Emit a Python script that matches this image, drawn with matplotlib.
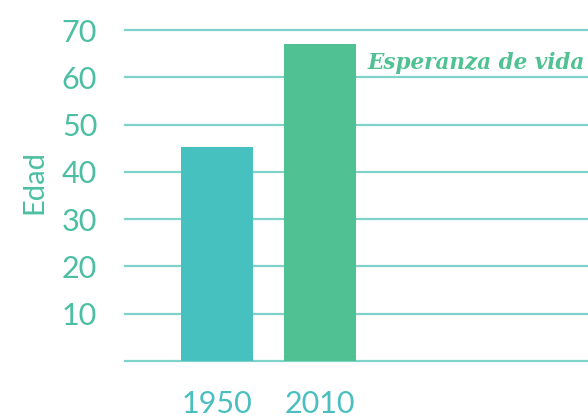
import matplotlib.pyplot as plt

# data
years = ["1950", "2010"]
ages = [45.2, 67.1]
bar_colors = ["#47C1C0", "#50C192"]
yticks = [10, 20, 30, 40, 50, 60, 70]

fig = plt.figure(figsize=(5.88, 4.19), dpi=100)
ax = fig.add_axes([125 / 588, (419 - 361) / 419, 463 / 588, (361 - 30) / 419])

x = range(len(years))
ax.bar(x, ages, width=0.7, color=bar_colors, zorder=3)

ax.set_xlim(-0.893, 3.60)
ax.set_ylim(0, 70)

# horizontal gridlines incl. the baseline
for v in [0] + yticks:
    ax.axhline(v, color="#7FD3CB", linewidth=1.6, zorder=1, clip_on=False)

ax.set_yticks(yticks)
ax.set_yticklabels([str(t) for t in yticks], fontsize=22, color="#4CBFA3", family="Lato")
ax.set_xticks(list(x))
ax.set_xticklabels(years, fontsize=22, color="#4BBFC0", family="Lato")
ax.tick_params(axis="y", length=0, pad=20)
ax.tick_params(axis="x", length=0, pad=21)

for s in ax.spines.values():
    s.set_visible(False)

ax.set_ylabel("Edad", fontsize=21, color="#4CBFA3", family="Lato")
ax.yaxis.set_label_coords(-0.168, 0.54)

ax.text(1.46, 63.1, "Esperanza de vida", fontsize=15.5, color="#50C192",
        style="italic", fontweight="bold", family="DejaVu Serif", va="center", ha="left")

fig.savefig("out.png", dpi=100)
